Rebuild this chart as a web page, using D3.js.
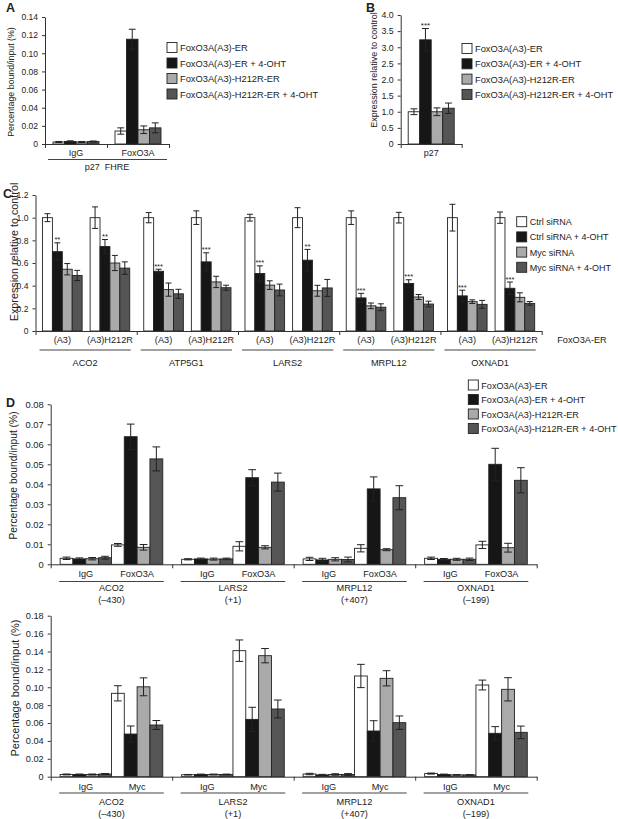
<!DOCTYPE html>
<html><head><meta charset="utf-8">
<script src="https://cdn.jsdelivr.net/npm/d3@7"></script>
<style>
body{margin:0;background:#fff}
svg{display:block}
text{font-family:"Liberation Sans",Arial,sans-serif;fill:#222}
</style>
</head><body>
<svg id="chart" width="618" height="819"></svg>
<script>
// ---------- DATA ----------
const seriesFox = ["FoxO3A(A3)-ER","FoxO3A(A3)-ER + 4-OHT","FoxO3A(A3)-H212R-ER","FoxO3A(A3)-H212R-ER + 4-OHT"];
const seriesSi = ["Ctrl siRNA","Ctrl siRNA + 4-OHT","Myc siRNA","Myc siRNA + 4-OHT"];
const barColors = ["#ffffff","#161616","#aaaaaa","#555555"];

// Panel A
const groupsA = ["IgG","FoxO3A"];
const valuesA = [[0.0022,0.0028,0.0022,0.0027],[0.0143,0.1155,0.0157,0.0178]];
const errorsA = [[0.0006,0.0007,0.0006,0.0006],[0.0035,0.011,0.0042,0.0055]];
const ticksA = [0,0.02,0.04,0.06,0.08,0.10,0.12,0.14];

// Panel B
const groupsB = ["p27"];
const valuesB = [[1.0,3.23,1.0,1.11]];
const errorsB = [[0.09,0.35,0.12,0.16]];
const starsB = [["","***","",""]];
const ticksB = [0,0.5,1.0,1.5,2.0,2.5,3.0,3.5,4.0];

// Panel C
const genesC = ["ACO2","ATP5G1","LARS2","MRPL12","OXNAD1"];
const condC = ["(A3)","(A3)H212R"];
const valuesC = [
  [[1.0,0.70,0.545,0.49],[1.0,0.745,0.60,0.555]],
  [[1.0,0.527,0.365,0.328],[1.0,0.61,0.433,0.382]],
  [[1.0,0.507,0.405,0.362],[1.0,0.625,0.355,0.38]],
  [[1.0,0.292,0.222,0.21],[1.0,0.42,0.30,0.238]],
  [[1.0,0.31,0.259,0.235],[1.0,0.377,0.297,0.244]]
];
const errorsC = [
  [[0.035,0.078,0.05,0.045],[0.095,0.062,0.067,0.055]],
  [[0.045,0.018,0.058,0.04],[0.06,0.08,0.05,0.022]],
  [[0.03,0.068,0.038,0.052],[0.088,0.095,0.048,0.075]],
  [[0.06,0.04,0.025,0.03],[0.047,0.032,0.022,0.025]],
  [[0.118,0.05,0.016,0.035],[0.05,0.055,0.04,0.016]]
];
const starsC = [
  [["","**","",""],["","**","",""]],
  [["","***","",""],["","***","",""]],
  [["","***","",""],["","**","",""]],
  [["","***","",""],["","***","",""]],
  [["","***","",""],["","***","",""]]
];
const ticksC = [0,0.2,0.4,0.6,0.8,1.0,1.2];

// Panel D
const genesD = ["ACO2","LARS2","MRPL12","OXNAD1"];
const sitesD = ["(\u2013430)","(+1)","(+407)","(\u2013199)"];
const groupsDtop = ["IgG","FoxO3A"];
const valuesDtop = [
  [[0.0030,0.0027,0.0028,0.0033],[0.0097,0.0638,0.0085,0.0527]],
  [[0.0025,0.0027,0.0026,0.0027],[0.0090,0.0433,0.0085,0.0411]],
  [[0.0027,0.0022,0.0025,0.0024],[0.0080,0.0377,0.0073,0.0333]],
  [[0.0030,0.0025,0.0025,0.0025],[0.0097,0.0500,0.0083,0.0420]]
];
const errorsDtop = [
  [[0.0006,0.0005,0.0006,0.0007],[0.0007,0.0063,0.0014,0.0060]],
  [[0.0003,0.0004,0.0005,0.0004],[0.0023,0.0040,0.0008,0.0045]],
  [[0.0008,0.0008,0.0008,0.0012],[0.0018,0.0060,0.0005,0.0060]],
  [[0.0006,0.0004,0.0005,0.0006],[0.0018,0.0080,0.0022,0.0063]]
];
const ticksDtop = [0,0.01,0.02,0.03,0.04,0.05,0.06,0.07,0.08];

const groupsDbot = ["IgG","Myc"];
const valuesDbot = [
  [[0.0025,0.0025,0.0025,0.0030],[0.0932,0.0477,0.1005,0.0578]],
  [[0.0022,0.0025,0.0025,0.0025],[0.1409,0.0641,0.1353,0.0757]],
  [[0.0030,0.0020,0.0025,0.0025],[0.1126,0.0511,0.1100,0.0604]],
  [[0.0035,0.0025,0.0020,0.0020],[0.1025,0.0485,0.0977,0.0496]]
];
const errorsDbot = [
  [[0.0005,0.0005,0.0005,0.0005],[0.0085,0.0090,0.0100,0.0050]],
  [[0.0003,0.0004,0.0004,0.0004],[0.0120,0.0135,0.0080,0.0100]],
  [[0.0008,0.0006,0.0008,0.0010],[0.0130,0.0115,0.0085,0.0075]],
  [[0.0006,0.0004,0.0003,0.0003],[0.0055,0.0075,0.0130,0.0070]]
];
const ticksDbot = [0,0.02,0.04,0.06,0.08,0.10,0.12,0.14,0.16,0.18];

// ---------- HELPERS ----------
const svg = d3.select("#chart");
const INK = "#222";

function fmt(d, n){ return d === 0 ? "0" : d3.format("." + n + "f")(d); }

function yAxis(x, y, ticks, dec, fs){
  const g = svg.append("g").attr("transform", `translate(${x},0)`)
    .call(d3.axisLeft(y).tickValues(ticks).tickFormat(d => fmt(d, dec)).tickSize(3).tickSizeOuter(0).tickPadding(4));
  g.selectAll("text").attr("font-size", fs).attr("fill", INK).style("font-family", '"Liberation Sans",Arial,sans-serif');
  g.selectAll("path,line").attr("stroke", "#333");
}
function xBaseline(x0, x1, y0, n){
  const s = d3.scaleLinear().domain([0, n]).range([x0, x1]);
  const g = svg.append("g").attr("transform", `translate(0,${y0})`)
    .call(d3.axisBottom(s).tickValues(d3.range(n + 1)).tickFormat("").tickSize(4).tickSizeOuter(0));
  g.selectAll("path,line").attr("stroke", "#333");
}
function bars(x0, bw, vals, errs, y, stars, starFs){
  const g = svg.append("g");
  vals.forEach((v, i) => {
    const x = x0 + i * bw;
    g.append("rect").attr("x", x).attr("y", y(v)).attr("width", bw).attr("height", y(0) - y(v))
      .attr("fill", barColors[i]).attr("stroke", "#222").attr("stroke-width", 0.9);
    const e = errs[i], cx = x + bw / 2, cap = Math.max(4, bw * 0.6) / 2;
    const lo = Math.max(0, v - e);
    g.append("line").attr("x1", cx).attr("x2", cx).attr("y1", y(v + e)).attr("y2", y(lo)).attr("stroke", "#222").attr("stroke-width", 1);
    g.append("line").attr("x1", cx - cap).attr("x2", cx + cap).attr("y1", y(v + e)).attr("y2", y(v + e)).attr("stroke", "#222").attr("stroke-width", 1);
    g.append("line").attr("x1", cx - cap).attr("x2", cx + cap).attr("y1", y(lo)).attr("y2", y(lo)).attr("stroke", "#222").attr("stroke-width", 1);
    if (stars && stars[i]) {
      g.append("text").attr("x", cx).attr("y", y(v + e) - 0.5).attr("text-anchor", "middle")
        .attr("font-size", starFs || 8).text(stars[i]);
    }
  });
}
function label(x, y, t, fs, anchor){
  return svg.append("text").attr("x", x).attr("y", y).attr("font-size", fs).attr("text-anchor", anchor || "middle").text(t);
}
function underline(x0, x1, y){
  svg.append("line").attr("x1", x0).attr("x2", x1).attr("y1", y).attr("y2", y).attr("stroke", "#444").attr("stroke-width", 1.2);
}
function yTitle(x, cy, t, fs){
  svg.append("text").attr("transform", `translate(${x},${cy}) rotate(-90)`).attr("text-anchor", "middle").attr("font-size", fs).text(t);
}
function legend(x, y0, dy, labels, fs){
  labels.forEach((t, i) => {
    const y = y0 + i * dy;
    svg.append("rect").attr("x", x).attr("y", y - 5).attr("width", 10).attr("height", 10)
      .attr("fill", barColors[i]).attr("stroke", "#222").attr("stroke-width", 0.9);
    svg.append("text").attr("x", x + 13).attr("y", y + 3.5).attr("font-size", fs).text(t);
  });
}
function panelLetter(x, y, t){
  svg.append("text").attr("x", x).attr("y", y).attr("font-size", 12.5).attr("font-weight", "bold").attr("fill", "#000").text(t);
}

// ---------- PANEL A ----------
{
  const x = d3.scaleBand().domain(groupsA).range([45, 169]).paddingInner(0.258).paddingOuter(0.129);
  const s = d3.scaleBand().domain(d3.range(4)).range([0, x.bandwidth()]);
  const y = d3.scaleLinear().domain([0, 0.14]).range([144, 17]);
  groupsA.forEach((gname, gi) => bars(x(gname), s.bandwidth(), valuesA[gi], errorsA[gi], y));
  yAxis(45, y, ticksA, 2, 8.5);
  xBaseline(45, 169, 144, 2);
  groupsA.forEach(gname => label(x(gname) + x.bandwidth() / 2, 156, gname, 9));
  underline(48, 167, 159.5);
  label(107, 170, "p27\u00a0\u00a0FHRE", 9);
  yTitle(14, 82, "Percentage bound/input (%)", 8.8);
  legend(167, 47.5, 15.5, seriesFox, 9.3);
  panelLetter(6, 12, "A");
}

// ---------- PANEL B ----------
{
  const x = d3.scaleBand().domain(groupsB).range([400.7, 461.7]).paddingInner(0).paddingOuter(0.163);
  const s = d3.scaleBand().domain(d3.range(4)).range([0, x.bandwidth()]);
  const y = d3.scaleLinear().domain([0, 4]).range([144, 15]);
  groupsB.forEach((gname, gi) => bars(x(gname), s.bandwidth(), valuesB[gi], errorsB[gi], y, starsB[gi], 8));
  yAxis(400.7, y, ticksB, 1, 8.8);
  xBaseline(400.7, 461.7, 144, 1);
  groupsB.forEach(gname => label(x(gname) + x.bandwidth() / 2, 156, gname, 9));
  yTitle(377, 70, "Expression relative to control", 9);
  legend(462, 48.5, 15.3, seriesFox, 9.3);
  panelLetter(366, 12, "B");
}

// ---------- PANEL C ----------
{
  const xg = d3.scaleBand().domain(genesC).range([35.5, 541.7]);
  const xc = d3.scaleBand().domain(condC).range([0, xg.bandwidth()]).paddingInner(0.168).paddingOuter(0.147);
  const s = d3.scaleBand().domain(d3.range(4)).range([0, xc.bandwidth()]);
  const y = d3.scaleLinear().domain([0, 1.2]).range([331, 195]);
  genesC.forEach((gene, gi) => {
    condC.forEach((c, ci) => {
      bars(xg(gene) + xc(c), s.bandwidth(), valuesC[gi][ci], errorsC[gi][ci], y, starsC[gi][ci], 7.5);
      label(xg(gene) + xc(c) + xc.bandwidth() / 2, 343, c, 9.2);
    });
    const a = xg(gene) + xc(condC[0]) - 3, b = xg(gene) + xc(condC[1]) + xc.bandwidth() + 1;
    underline(a, b, 350);
    label((a + b) / 2, 365.5, gene, 9.2);
  });
  yAxis(35.5, y, ticksC, 1, 8.6);
  xBaseline(35.5, 541.7, 331, genesC.length);
  label(582, 343, "FoxO3A-ER", 9.2);
  yTitle(18, 252, "Expression relative to control", 10.8);
  legend(516.7, 221.7, 15.2, seriesSi, 9);
  panelLetter(3, 198, "C");
}

// ---------- PANEL D ----------
function panelD(groups, values, errors, y0, y1, ymax, ticks, lblY, ulY, geneY, siteY, titleX, titleY, titleFs, tickFs){
  const xg = d3.scaleBand().domain(genesD).range([50.7, 536.7]);
  const xb = d3.scaleBand().domain(d3.range(8)).range([0, xg.bandwidth()]).paddingInner(0).paddingOuter(0.735);
  const y = d3.scaleLinear().domain([0, ymax]).range([y0, y1]);
  genesD.forEach((gene, gi) => {
    groups.forEach((gname, k) => {
      const start = xg(gene) + xb(k * 4);
      bars(start, xb.bandwidth(), values[gi][k], errors[gi][k], y);
      label(start + 2 * xb.step(), lblY, gname, 9.2);
    });
    const a = xg(gene) + xb(0) - 1, b = xg(gene) + xb(7) + xb.bandwidth() + 1;
    underline(a, b, ulY);
    label((a + b) / 2, geneY, gene, 9.2);
    label((a + b) / 2, siteY, sitesD[gi], 9.2);
  });
  yAxis(50.7, y, ticks, 2, tickFs);
  xBaseline(50.7, 536.7, y0, genesD.length);
  yTitle(titleX, titleY, "Percentage bound/input (%)", titleFs);
}
panelD(groupsDtop, valuesDtop, errorsDtop, 564.3, 404.3, 0.08, ticksDtop, 577, 581.5, 591, 602.5, 17, 475.5, 10.3, 9.4);
panelD(groupsDbot, valuesDbot, errorsDbot, 776.7, 615.7, 0.18, ticksDbot, 790, 793, 805, 816.5, 19, 688, 11, 9.2);
legend(468.3, 385, 14.5, seriesFox, 9.1);
panelLetter(6, 407, "D");
</script>
</body></html>
